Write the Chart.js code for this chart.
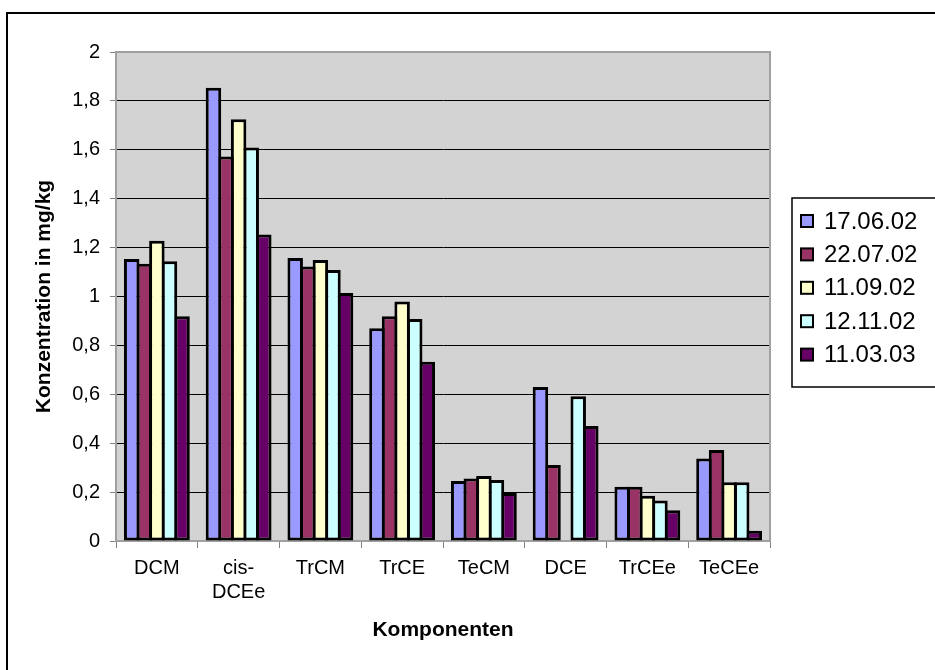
<!DOCTYPE html>
<html>
<head>
<meta charset="utf-8">
<script src="https://cdn.jsdelivr.net/npm/chart.js@4/dist/chart.umd.min.js"></script>
<style>
  body { margin: 0; background: #fff; }
  canvas { display: block; }
</style>
</head>
<body>
<canvas id="chart" width="935" height="670"></canvas>
<script>
// data
var categories = ['DCM', ['cis-', 'DCEe'], 'TrCM', 'TrCE', 'TeCM', 'DCE', 'TrCEe', 'TeCEe'];
var seriesNames = ['17.06.02', '22.07.02', '11.09.02', '12.11.02', '11.03.03'];
var s170602 = [1.153, 1.854, 1.157, 0.870, 0.245, 0.630, 0.222, 0.337];
var s220702 = [1.134, 1.573, 1.123, 0.919, 0.256, 0.311, 0.222, 0.372];
var s110902 = [1.228, 1.725, 1.149, 0.980, 0.266, null, 0.185, 0.240];
var s121102 = [1.144, 1.609, 1.108, 0.908, 0.249, 0.592, 0.166, 0.240];
var s110303 = [0.919, 1.254, 1.014, 0.733, 0.196, 0.470, 0.126, 0.042];
var yTicks = [0, 0.2, 0.4, 0.6, 0.8, 1, 1.2, 1.4, 1.6, 1.8, 2];

var colors = ['#9999FF', '#993366', '#FFFFCC', '#CCFFFF', '#660066'];
var values = [s170602, s220702, s110902, s121102, s110303];

var datasets = [];
for (var i in values) {
    datasets.push({
        label: seriesNames[i],
        data: values[i],
        backgroundColor: colors[i],
        borderColor: '#000',
        borderWidth: 3,
        borderSkipped: false,
        categoryPercentage: 0.77,
        barPercentage: 1.23
    });
}

var fontName = '"Liberation Sans", Arial, sans-serif';

var framePlugin = {
    id: 'frame',
    beforeDraw: function(chart) {
        var ctx = chart.ctx;
        var a = chart.chartArea;
        ctx.save();
        ctx.fillStyle = '#fff';
        ctx.fillRect(0, 0, chart.width, chart.height);
        // outer chart border
        ctx.strokeStyle = '#000';
        ctx.lineWidth = 2;
        ctx.beginPath();
        ctx.moveTo(7, 680);
        ctx.lineTo(7, 13);
        ctx.lineTo(940, 13);
        ctx.stroke();
        // plot area
        ctx.fillStyle = '#d3d3d3';
        ctx.fillRect(a.left, a.top, a.right - a.left, a.bottom - a.top);
        ctx.restore();
    },
    afterDraw: function(chart) {
        var ctx = chart.ctx;
        var a = chart.chartArea;
        ctx.save();
        ctx.strokeStyle = '#a0a0a0';
        ctx.lineWidth = 2;
        ctx.beginPath();
        ctx.moveTo(a.left, a.top);
        ctx.lineTo(a.right, a.top);
        ctx.lineTo(a.right, a.bottom);
        ctx.stroke();

        // legend
        var lx = 792, ly = 198;
        ctx.strokeStyle = '#000';
        ctx.lineWidth = 1.5;
        ctx.strokeRect(lx, ly, 200, 189);
        ctx.font = '24px ' + fontName;
        ctx.textBaseline = 'middle';
        ctx.textAlign = 'left';
        chart.data.datasets.forEach(function(ds, k) {
            var cy = 221 + k * 33.4;
            ctx.fillStyle = ds.backgroundColor;
            ctx.fillRect(801, cy - 6, 12, 12);
            ctx.strokeStyle = '#000';
            ctx.lineWidth = 2;
            ctx.strokeRect(801, cy - 6, 12, 12);
            ctx.fillStyle = '#000';
            ctx.fillText(ds.label, 824, cy + 1);
        });
        ctx.restore();
    }
};

var ctx = document.getElementById('chart');
var chart = new Chart(ctx, {
    type: 'bar',
    data: { labels: categories, datasets: datasets },
    plugins: [framePlugin],
    options: {
        responsive: false,
        animation: false,
        layout: { padding: { top: 52, right: 165, bottom: 0, left: 0 } },
        plugins: { legend: { display: false }, tooltip: { enabled: false } },
        scales: {
            x: {
                afterFit: function(s) { s.height = 129; },
                grid: { drawOnChartArea: false, tickLength: 7, color: '#808080', offset: true },
                border: { color: '#a0a0a0', width: 2 },
                ticks: { color: '#000', font: { family: fontName, size: 20 }, padding: 8, maxRotation: 0, autoSkip: false },
                title: { display: true, text: 'Komponenten', color: '#000',
                         font: { family: fontName, size: 21, weight: 'bold' }, padding: { top: 0, bottom: 27 } }
            },
            y: {
                min: 0,
                max: 2,
                afterFit: function(s) { s.width = 116; },
                afterBuildTicks: function(s) { s.ticks = yTicks.map(function(v) { return { value: v }; }); },
                grid: { color: '#000', tickColor: '#808080', tickLength: 6, lineWidth: 1 },
                border: { color: '#a0a0a0', width: 2 },
                ticks: {
                    color: '#000',
                    font: { family: fontName, size: 20 },
                    padding: 10,
                    callback: function(v) { return String(Math.round(v * 10) / 10).replace('.', ','); }
                },
                title: { display: true, text: 'Konzentration in mg/kg', color: '#000',
                         font: { family: fontName, size: 21, weight: 'bold' }, padding: { top: 32 } }
            }
        }
    }
});
</script>
</body>
</html>
